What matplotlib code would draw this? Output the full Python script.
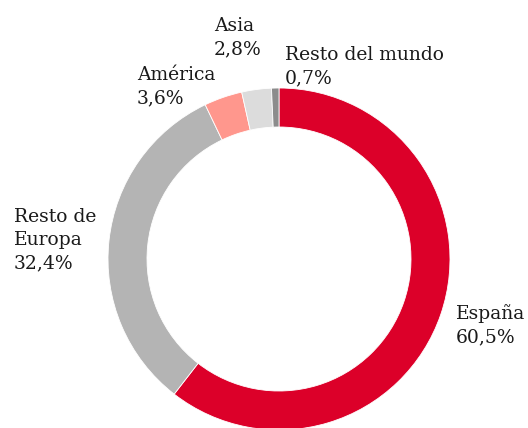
import matplotlib
matplotlib.use('Agg')
import matplotlib.pyplot as plt

# data
regions = ['España', 'Resto de\nEuropa', 'América', 'Asia', 'Resto del mundo']
shares = [60.5, 32.4, 3.6, 2.8, 0.7]
colors = ['#dc0029', '#b4b4b4', '#ff978d', '#dcdcdc', '#8c8c8c']

# label anchor: left edge and top of first line, pixels from top-left
label_pos = [(456, 304), (14, 208), (137, 66), (214, 17), (285, 46)]

W, H = 528, 428
fig = plt.figure(figsize=(W / 100, H / 100), dpi=100)
ax = fig.add_axes([0, 0, 1, 1])

cx, cy, r = 279, 259, 171
ax.pie(shares, colors=colors, startangle=90, counterclock=False,
       center=(cx, H - cy), radius=r,
       wedgeprops=dict(width=39, edgecolor='white', linewidth=0.6))

for name, val, (x, y) in zip(regions, shares, label_pos):
    txt = name + '\n' + f'{val:.1f}%'.replace('.', ',')
    ax.text(x, H - y, txt, ha='left', va='top', fontsize=13.5,
            family='DejaVu Serif', color='#1a1a1a', linespacing=1.36)

ax.set_xlim(0, W)
ax.set_ylim(0, H)
ax.set_aspect('equal')
ax.axis('off')

fig.savefig('out.png', dpi=100)
